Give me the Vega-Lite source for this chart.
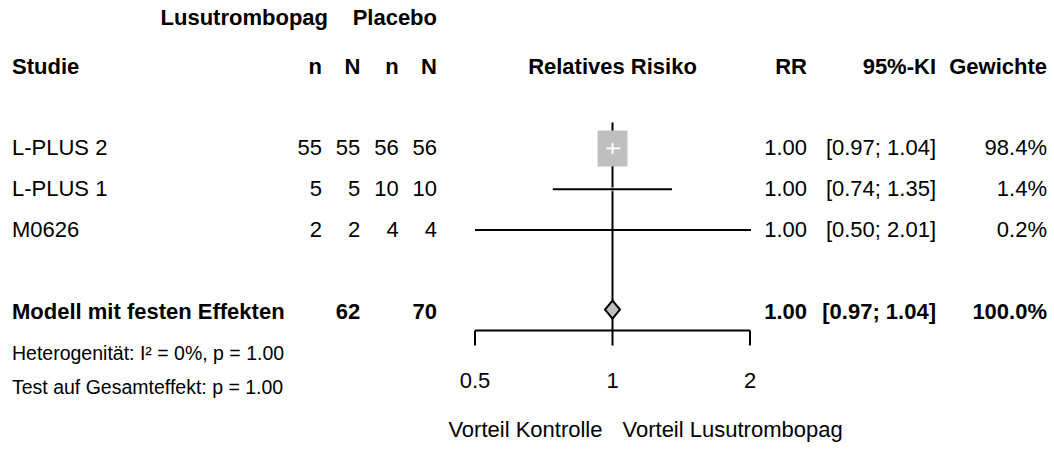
{
  "$schema": "https://vega.github.io/schema/vega-lite/v6.json",
  "width": 1054,
  "height": 449,
  "padding": 0,
  "autosize": {"type": "none"},
  "background": "white",
  "config": {
    "view": {"stroke": null},
    "text": {"font": "Liberation Sans", "fontSize": 22, "color": "black", "baseline": "middle"}
  },
  "datasets": {
    "studies": [
      {"row": "s1", "study": "L-PLUS 2", "e_n": 55, "e_N": 55, "c_n": 56, "c_N": 56, "rr": 1.0, "lo": 0.97, "hi": 1.04, "ci": "[0.97; 1.04]", "weight": 0.984},
      {"row": "s2", "study": "L-PLUS 1", "e_n": 5, "e_N": 5, "c_n": 10, "c_N": 10, "rr": 1.0, "lo": 0.74, "hi": 1.35, "ci": "[0.74; 1.35]", "weight": 0.014},
      {"row": "s3", "study": "M0626", "e_n": 2, "e_N": 2, "c_n": 4, "c_N": 4, "rr": 1.0, "lo": 0.5, "hi": 2.01, "ci": "[0.50; 2.01]", "weight": 0.002}
    ],
    "pooled": [
      {"row": "fe", "study": "Modell mit festen Effekten", "e_N": 62, "c_N": 70, "rr": 1.0, "lo": 0.97, "hi": 1.04, "ci": "[0.97; 1.04]", "weight": 1.0}
    ],
    "headers": [
      {"row": "h1", "col": "e", "text": "Lusutrombopag"},
      {"row": "h1", "col": "c", "text": "Placebo"},
      {"row": "h2", "col": "study", "text": "Studie"},
      {"row": "h2", "col": "e_n", "text": "n"},
      {"row": "h2", "col": "e_N", "text": "N"},
      {"row": "h2", "col": "c_n", "text": "n"},
      {"row": "h2", "col": "c_N", "text": "N"},
      {"row": "h2", "col": "forest", "text": "Relatives Risiko"},
      {"row": "h2", "col": "rr", "text": "RR"},
      {"row": "h2", "col": "ci", "text": "95%-KI"},
      {"row": "h2", "col": "w", "text": "Gewichte"}
    ],
    "notes": [
      {"row": "het", "text": "Heterogenität: I² = 0%, p = 1.00"},
      {"row": "test", "text": "Test auf Gesamteffekt: p = 1.00"}
    ],
    "favours": [
      {"side": "left", "text": "Vorteil Kontrolle"},
      {"side": "right", "text": "Vorteil Lusutrombopag"}
    ],
    "ticks": [{"value": 0.5}, {"value": 1}, {"value": 2}]
  },
  "resolve": {"scale": {"x": "independent"}},
  "layer": [
    {
      "layer": [
        {
          "data": {"values": [{"ref": 1}]},
          "mark": {"type": "rule", "color": "black", "strokeWidth": 2, "yOffset": -26, "y2Offset": 19},
          "encoding": {
            "x": {"field": "ref", "type": "quantitative", "scale": {"type": "log", "domain": [0.5, 2], "range": [475, 750], "nice": false}, "axis": null},
            "y": {"datum": "s1", "type": "nominal", "scale": {"domain": ["h1", "h2", "g1", "s1", "s2", "s3", "g2", "fe", "het", "test", "lab"], "range": [5.6, 454.4]}, "axis": null},
            "y2": {"datum": "fe"}
          }
        },
        {
          "data": {"name": "ticks"},
          "mark": {"type": "rule", "color": "black", "strokeWidth": 2, "yOffset": 19},
          "encoding": {
            "x": {"aggregate": "min", "field": "value", "type": "quantitative", "axis": null},
            "x2": {"aggregate": "max", "field": "value"},
            "y": {"datum": "fe", "type": "nominal", "axis": null}
          }
        },
        {
          "data": {"name": "ticks"},
          "mark": {"type": "rule", "color": "black", "strokeWidth": 2, "yOffset": 19, "y2Offset": 34},
          "encoding": {
            "x": {"field": "value", "type": "quantitative", "axis": null},
            "y": {"datum": "fe", "type": "nominal", "axis": null},
            "y2": {"datum": "fe"}
          }
        },
        {
          "data": {"name": "ticks"},
          "mark": {"type": "text", "align": "center", "yOffset": 29},
          "encoding": {
            "x": {"field": "value", "type": "quantitative", "axis": null},
            "y": {"datum": "het", "type": "nominal", "axis": null},
            "text": {"field": "value", "type": "quantitative", "format": "~g"}
          }
        },
        {
          "data": {"name": "studies"},
          "mark": {"type": "point", "filled": true, "shape": "M-1,-1.2H1V1.2H-1Z", "color": "#BFBFBF", "opacity": 1, "strokeWidth": 0},
          "encoding": {
            "x": {"field": "rr", "type": "quantitative", "axis": null},
            "y": {"field": "row", "type": "nominal", "axis": null},
            "size": {"field": "weight", "type": "quantitative", "scale": {"domain": [0, 1], "range": [0, 915]}, "legend": null}
          }
        },
        {
          "data": {"name": "studies"},
          "mark": {"type": "rule", "strokeWidth": 2},
          "encoding": {
            "x": {"field": "lo", "type": "quantitative", "axis": null},
            "x2": {"field": "hi"},
            "y": {"field": "row", "type": "nominal", "axis": null},
            "color": {"condition": {"test": "datum.weight > 0.5", "value": "white"}, "value": "black"}
          }
        },
        {
          "data": {"name": "studies"},
          "transform": [{"filter": "datum.weight > 0.5"}],
          "mark": {"type": "tick", "color": "white", "size": 11, "thickness": 2, "opacity": 1},
          "encoding": {
            "x": {"field": "rr", "type": "quantitative", "axis": null},
            "y": {"field": "row", "type": "nominal", "axis": null}
          }
        },
        {
          "data": {"name": "pooled"},
          "mark": {"type": "point", "filled": true, "shape": "M-1,0L0,-1.2L1,0L0,1.2Z", "size": 225, "fill": "#BFBFBF", "stroke": "black", "strokeWidth": 2, "opacity": 1, "yOffset": -2},
          "encoding": {
            "x": {"field": "rr", "type": "quantitative", "axis": null},
            "y": {"field": "row", "type": "nominal", "axis": null}
          }
        },
        {
          "data": {"name": "headers"},
          "transform": [{"filter": "datum.col == 'forest'"}],
          "mark": {"type": "text", "align": "center", "fontWeight": "bold"},
          "encoding": {
            "x": {"datum": 1, "type": "quantitative", "axis": null},
            "y": {"field": "row", "type": "nominal", "axis": null},
            "text": {"field": "text"}
          }
        },
        {
          "data": {"name": "favours"},
          "transform": [{"filter": "datum.side == 'left'"}],
          "mark": {"type": "text", "align": "right", "dx": -10, "yOffset": -4},
          "encoding": {
            "x": {"datum": 1, "type": "quantitative", "axis": null},
            "y": {"datum": "lab", "type": "nominal", "axis": null},
            "text": {"field": "text"}
          }
        },
        {
          "data": {"name": "favours"},
          "transform": [{"filter": "datum.side == 'right'"}],
          "mark": {"type": "text", "align": "left", "dx": 10, "yOffset": -4},
          "encoding": {
            "x": {"datum": 1, "type": "quantitative", "axis": null},
            "y": {"datum": "lab", "type": "nominal", "axis": null},
            "text": {"field": "text"}
          }
        }
      ]
    },
    {
      "layer": [
        {
          "data": {"name": "headers"},
          "transform": [{"filter": "datum.col == 'study'"}],
          "mark": {"type": "text", "align": "left", "fontWeight": "bold"},
          "encoding": {
            "x": {"datum": "study", "type": "nominal", "scale": {"domain": ["study"], "range": [12, 12]}, "axis": null},
            "y": {"field": "row", "type": "nominal", "axis": null},
            "text": {"field": "text"}
          }
        },
        {
          "data": {"name": "studies"},
          "mark": {"type": "text", "align": "left"},
          "encoding": {
            "x": {"datum": "study", "type": "nominal", "axis": null},
            "y": {"field": "row", "type": "nominal", "axis": null},
            "text": {"field": "study"}
          }
        },
        {
          "data": {"name": "pooled"},
          "mark": {"type": "text", "align": "left", "fontWeight": "bold"},
          "encoding": {
            "x": {"datum": "study", "type": "nominal", "axis": null},
            "y": {"field": "row", "type": "nominal", "axis": null},
            "text": {"field": "study"}
          }
        },
        {
          "data": {"name": "notes"},
          "transform": [{"filter": "datum.row == 'het'"}],
          "mark": {"type": "text", "align": "left", "fontSize": 19.5, "yOffset": 2},
          "encoding": {
            "x": {"datum": "study", "type": "nominal", "axis": null},
            "y": {"field": "row", "type": "nominal", "axis": null},
            "text": {"field": "text"}
          }
        },
        {
          "data": {"name": "notes"},
          "transform": [{"filter": "datum.row == 'test'"}],
          "mark": {"type": "text", "align": "left", "fontSize": 19.5, "yOffset": -5},
          "encoding": {
            "x": {"datum": "study", "type": "nominal", "axis": null},
            "y": {"field": "row", "type": "nominal", "axis": null},
            "text": {"field": "text"}
          }
        }
      ]
    },
    {
      "layer": [
        {
          "data": {"name": "headers"},
          "transform": [{"filter": "indexof(['e_n','e_N','c_n','c_N'], datum.col) >= 0"}],
          "mark": {"type": "text", "align": "right", "fontWeight": "bold"},
          "encoding": {
            "x": {"field": "col", "type": "nominal", "scale": {"domain": ["e_n", "e_N", "c_n", "c_N"], "range": [322, 437], "padding": 0}, "axis": null},
            "y": {"field": "row", "type": "nominal", "axis": null},
            "text": {"field": "text"}
          }
        },
        {
          "data": {"name": "headers"},
          "transform": [{"filter": "datum.col == 'e'"}, {"calculate": "'e_n'", "as": "col"}],
          "mark": {"type": "text", "align": "right", "fontWeight": "bold", "dx": 6, "yOffset": -8},
          "encoding": {
            "x": {"field": "col", "type": "nominal", "axis": null},
            "y": {"field": "row", "type": "nominal", "axis": null},
            "text": {"field": "text"}
          }
        },
        {
          "data": {"name": "headers"},
          "transform": [{"filter": "datum.col == 'c'"}, {"calculate": "'c_N'", "as": "col"}],
          "mark": {"type": "text", "align": "right", "fontWeight": "bold", "yOffset": -8},
          "encoding": {
            "x": {"field": "col", "type": "nominal", "axis": null},
            "y": {"field": "row", "type": "nominal", "axis": null},
            "text": {"field": "text"}
          }
        },
        {
          "data": {"name": "studies"},
          "transform": [{"fold": ["e_n", "e_N", "c_n", "c_N"], "as": ["col", "val"]}],
          "mark": {"type": "text", "align": "right"},
          "encoding": {
            "x": {"field": "col", "type": "nominal", "axis": null},
            "y": {"field": "row", "type": "nominal", "axis": null},
            "text": {"field": "val", "type": "nominal"}
          }
        },
        {
          "data": {"name": "pooled"},
          "transform": [{"fold": ["e_N", "c_N"], "as": ["col", "val"]}],
          "mark": {"type": "text", "align": "right", "fontWeight": "bold"},
          "encoding": {
            "x": {"field": "col", "type": "nominal", "axis": null},
            "y": {"field": "row", "type": "nominal", "axis": null},
            "text": {"field": "val", "type": "nominal"}
          }
        }
      ]
    },
    {
      "layer": [
        {
          "data": {"name": "headers"},
          "transform": [{"filter": "datum.col == 'rr'"}],
          "mark": {"type": "text", "align": "right", "fontWeight": "bold"},
          "encoding": {
            "x": {"datum": "rr", "type": "nominal", "scale": {"domain": ["rr"], "range": [807, 807]}, "axis": null},
            "y": {"field": "row", "type": "nominal", "axis": null},
            "text": {"field": "text"}
          }
        },
        {
          "data": {"name": "studies"},
          "mark": {"type": "text", "align": "right"},
          "encoding": {
            "x": {"datum": "rr", "type": "nominal", "axis": null},
            "y": {"field": "row", "type": "nominal", "axis": null},
            "text": {"field": "rr", "type": "quantitative", "format": ".2f"}
          }
        },
        {
          "data": {"name": "pooled"},
          "mark": {"type": "text", "align": "right", "fontWeight": "bold"},
          "encoding": {
            "x": {"datum": "rr", "type": "nominal", "axis": null},
            "y": {"field": "row", "type": "nominal", "axis": null},
            "text": {"field": "rr", "type": "quantitative", "format": ".2f"}
          }
        }
      ]
    },
    {
      "layer": [
        {
          "data": {"name": "headers"},
          "transform": [{"filter": "datum.col == 'ci'"}],
          "mark": {"type": "text", "align": "right", "fontWeight": "bold"},
          "encoding": {
            "x": {"datum": "ci", "type": "nominal", "scale": {"domain": ["ci"], "range": [936, 936]}, "axis": null},
            "y": {"field": "row", "type": "nominal", "axis": null},
            "text": {"field": "text"}
          }
        },
        {
          "data": {"name": "studies"},
          "mark": {"type": "text", "align": "right"},
          "encoding": {
            "x": {"datum": "ci", "type": "nominal", "axis": null},
            "y": {"field": "row", "type": "nominal", "axis": null},
            "text": {"field": "ci"}
          }
        },
        {
          "data": {"name": "pooled"},
          "mark": {"type": "text", "align": "right", "fontWeight": "bold"},
          "encoding": {
            "x": {"datum": "ci", "type": "nominal", "axis": null},
            "y": {"field": "row", "type": "nominal", "axis": null},
            "text": {"field": "ci"}
          }
        }
      ]
    },
    {
      "layer": [
        {
          "data": {"name": "headers"},
          "transform": [{"filter": "datum.col == 'w'"}],
          "mark": {"type": "text", "align": "right", "fontWeight": "bold"},
          "encoding": {
            "x": {"datum": "w", "type": "nominal", "scale": {"domain": ["w"], "range": [1047, 1047]}, "axis": null},
            "y": {"field": "row", "type": "nominal", "axis": null},
            "text": {"field": "text"}
          }
        },
        {
          "data": {"name": "studies"},
          "mark": {"type": "text", "align": "right"},
          "encoding": {
            "x": {"datum": "w", "type": "nominal", "axis": null},
            "y": {"field": "row", "type": "nominal", "axis": null},
            "text": {"field": "weight", "type": "quantitative", "format": ".1%"}
          }
        },
        {
          "data": {"name": "pooled"},
          "mark": {"type": "text", "align": "right", "fontWeight": "bold"},
          "encoding": {
            "x": {"datum": "w", "type": "nominal", "axis": null},
            "y": {"field": "row", "type": "nominal", "axis": null},
            "text": {"field": "weight", "type": "quantitative", "format": ".1%"}
          }
        }
      ]
    }
  ]
}
